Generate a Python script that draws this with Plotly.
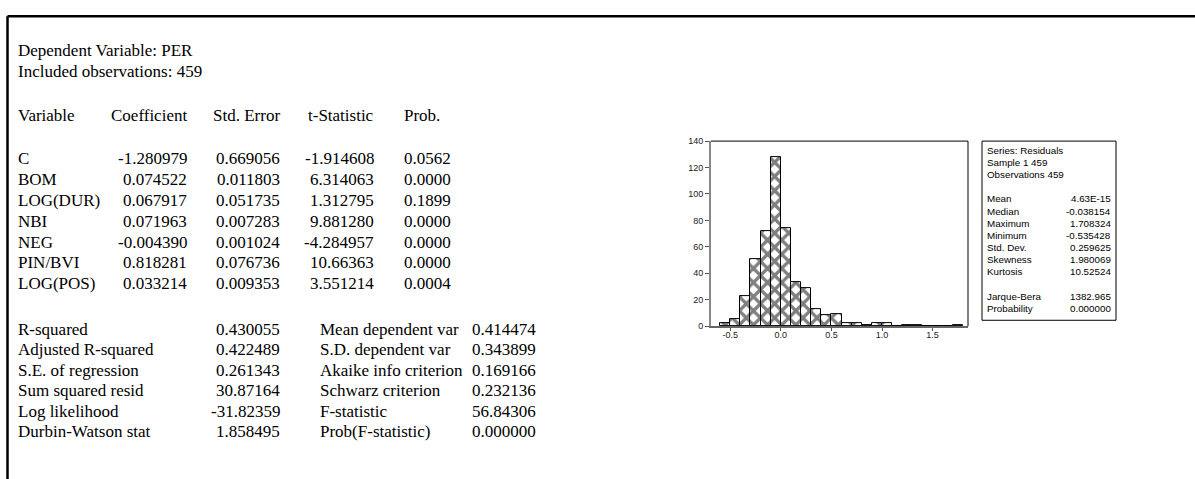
import plotly.graph_objects as go

W, H = 1195, 479

# ---- regression output ----
header = ["Variable", "Coefficient", "Std. Error", "t-Statistic", "Prob."]
variables = ["C", "BOM", "LOG(DUR)", "NBI", "NEG", "PIN/BVI", "LOG(POS)"]
coefficients = ["-1.280979", "0.074522", "0.067917", "0.071963", "-0.004390", "0.818281", "0.033214"]
std_errors = ["0.669056", "0.011803", "0.051735", "0.007283", "0.001024", "0.076736", "0.009353"]
t_stats = ["-1.914608", "6.314063", "1.312795", "9.881280", "-4.284957", "10.66363", "3.551214"]
probs = ["0.0562", "0.0000", "0.1899", "0.0000", "0.0000", "0.0000", "0.0004"]

stat_labels_l = ["R-squared", "Adjusted R-squared", "S.E. of regression",
                 "Sum squared resid", "Log likelihood", "Durbin-Watson stat"]
stat_values_l = ["0.430055", "0.422489", "0.261343", "30.87164", "-31.82359", "1.858495"]
stat_labels_r = ["Mean dependent var", "S.D. dependent var", "Akaike info criterion",
                 "Schwarz criterion", "F-statistic", "Prob(F-statistic)"]
stat_values_r = ["0.414474", "0.343899", "0.169166", "0.232136", "56.84306", "0.000000"]

# ---- residual histogram ----
bin_centers = [-0.55, -0.45, -0.35, -0.25, -0.15, -0.05, 0.05, 0.15, 0.25, 0.35, 0.45, 0.55,
               0.65, 0.75, 0.85, 0.95, 1.05, 1.15, 1.25, 1.35, 1.45, 1.55, 1.65, 1.75]
counts = [2, 5, 23, 51, 72, 128, 74, 33, 29, 13, 8, 9,
          2, 2, 1, 2, 2, 0, 1, 1, 0, 0, 0, 1]
x_ticks = [-0.5, 0.0, 0.5, 1.0, 1.5]
x_tick_text = ["-0.5", "0.0", "0.5", "1.0", "1.5"]
y_ticks = [0, 20, 40, 60, 80, 100, 120, 140]

summary_head = ["Series: Residuals", "Sample 1 459", "Observations 459"]
summary_labels = ["Mean", "Median", "Maximum", "Minimum", "Std. Dev.", "Skewness", "Kurtosis"]
summary_values = ["4.63E-15", "-0.038154", "1.708324", "-0.535428", "0.259625", "1.980069", "10.52524"]
test_labels = ["Jarque-Bera", "Probability"]
test_values = ["1382.965", "0.000000"]

SERIF = "Liberation Serif"
SANS = "Liberation Sans"


def px(x):
    return x / W


def py(y):
    return 1 - y / H


annotations = []


def text(x, y, s, anchor="left", size=17, family=SERIF):
    annotations.append(dict(
        x=px(x), y=py(y), xref="paper", yref="paper", text=s, showarrow=False,
        xanchor=anchor, yanchor="middle", borderpad=0,
        font=dict(family=family, size=size, color="black")))


# column anchors of the regression table
X_LAB, X_COEF, X_SE, X_T, X_P = 17, 188, 281, 375, 403
X_SV1, X_SL2, X_SV2 = 281, 319, 537

text(X_LAB, 46, "Dependent Variable: PER")
text(X_LAB, 68, "Included observations: 459")

hy = 113
text(X_LAB, hy, header[0])
text(X_COEF, hy, header[1], "right")
text(X_SE, hy, header[2], "right")
text(X_T, hy, header[3], "right")
text(X_P, hy, header[4])

row0, step = 157, 21.3
for i, v in enumerate(variables):
    y = row0 + i * step
    text(X_LAB, y, v)
    text(X_COEF, y, coefficients[i], "right")
    text(X_SE, y, std_errors[i], "right")
    text(X_T, y, t_stats[i], "right")
    text(X_P, y, probs[i])

srow0, sstep = 331, 21
for i in range(len(stat_labels_l)):
    y = srow0 + i * sstep
    text(X_LAB, y, stat_labels_l[i])
    text(X_SV1, y, stat_values_l[i], "right")
    text(X_SL2, y, stat_labels_r[i])
    text(X_SV2, y, stat_values_r[i], "right")

# summary statistics box
bx0, bx1, by0, by1 = 982, 1116, 139, 322
line0, lstep, fs = 148.5, 12.4, 9.8
for i, s in enumerate(summary_head):
    text(986, line0 + i * lstep, s, size=fs, family=SANS)
for i, (lab, val) in enumerate(zip(summary_labels, summary_values)):
    y = line0 + (4 + i) * lstep
    text(986, y, lab, size=fs, family=SANS)
    text(1112, y, val, "right", size=fs, family=SANS)
for i, (lab, val) in enumerate(zip(test_labels, test_values)):
    y = line0 + (12 + i) * lstep
    text(986, y, lab, size=fs, family=SANS)
    text(1112, y, val, "right", size=fs, family=SANS)

shapes = [
    # outer frame (top and left edges)
    dict(type="line", xref="paper", yref="paper", x0=px(7.5), x1=px(W + 5),
         y0=py(11.5), y1=py(11.5), line=dict(color="black", width=2.5)),
    dict(type="line", xref="paper", yref="paper", x0=px(7.5), x1=px(7.5),
         y0=py(11.5), y1=py(H + 5), line=dict(color="black", width=2.5)),
    # summary box
    dict(type="rect", xref="paper", yref="paper", x0=px(bx0), x1=px(bx1),
         y0=py(by0), y1=py(by1), line=dict(color="black", width=1)),
    # histogram frame: top and right
    dict(type="line", xref="x domain", yref="y domain", x0=0, x1=1, y0=1, y1=1,
         line=dict(color="black", width=1)),
    dict(type="line", xref="x domain", yref="y domain", x0=1, x1=1, y0=0, y1=1,
         line=dict(color="black", width=1)),
]

fig = go.Figure()
fig.add_trace(go.Bar(
    x=bin_centers, y=counts, width=0.1,
    marker=dict(color="white",
                line=dict(color="black", width=1),
                pattern=dict(shape="x", fgcolor="black", bgcolor="white",
                             size=10, solidity=0.55)),
    showlegend=False, hoverinfo="skip"))

fig.update_layout(
    width=W, height=H, margin=dict(l=0, r=0, t=0, b=0),
    paper_bgcolor="white", plot_bgcolor="white",
    bargap=0, annotations=annotations, shapes=shapes,
    xaxis=dict(domain=[px(711), px(968)], range=[-0.69, 1.85],
               tickvals=x_ticks, ticktext=x_tick_text,
               ticks="outside", ticklen=3, tickcolor="#555", showgrid=False,
               zeroline=False, showline=True, linecolor="#666", linewidth=1.5,
               ticklabelstandoff=-4,
               tickfont=dict(family=SANS, size=9, color="#222")),
    yaxis=dict(domain=[py(328), py(139)], range=[0, 140],
               tickvals=y_ticks, ticks="outside", ticklen=4, tickcolor="#555",
               showgrid=False, zeroline=False, showline=True,
               linecolor="#888", linewidth=2,
               tickfont=dict(family=SANS, size=9, color="#222")),
)

fig.write_html("out.html")
